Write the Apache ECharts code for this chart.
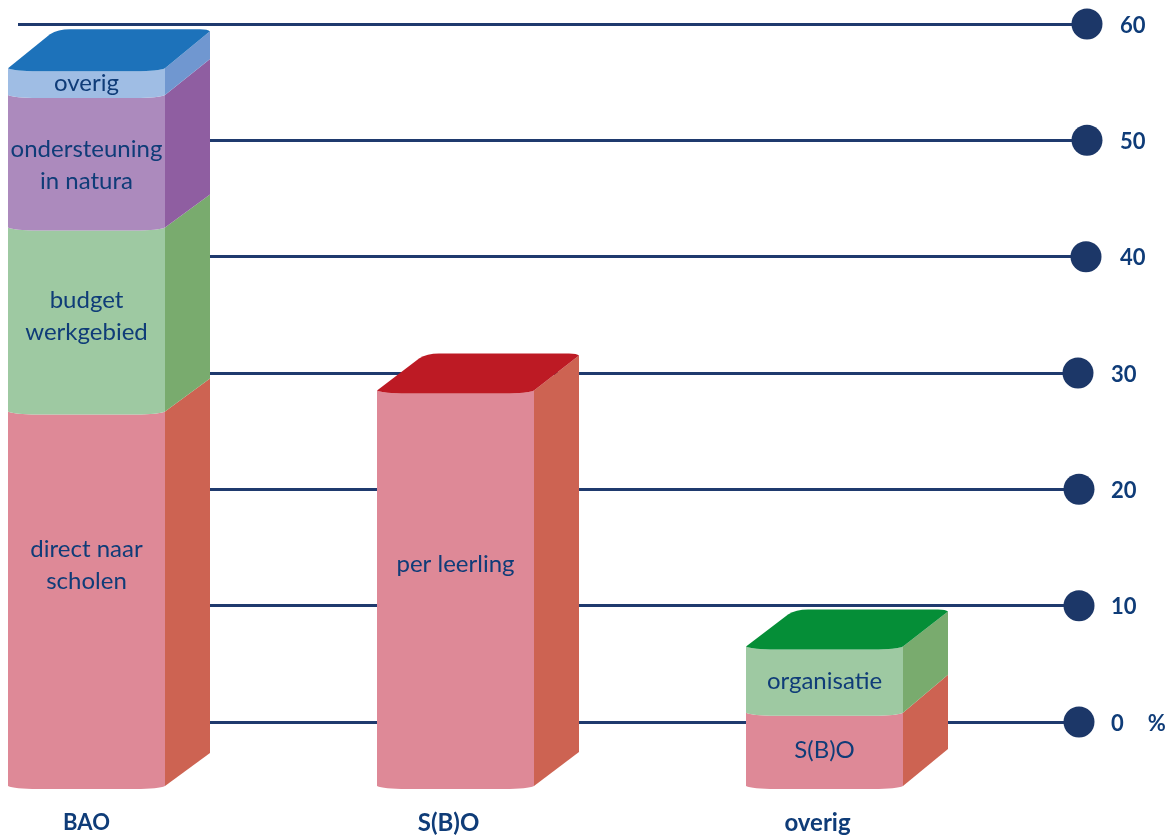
<!DOCTYPE html>
<html>
<head>
<meta charset="utf-8">
<title>Chart</title>
<style>
  html, body { margin: 0; padding: 0; background: #fff; }
  #chart { width: 1170px; height: 839px; }
</style>
<script src="https://cdn.jsdelivr.net/npm/echarts@6/dist/echarts.min.js"></script>
</head>
<body>
<div id="chart"></div>
<script>
// data
var categories = ['BAO', 'S(B)O', 'overig'];
var tickValues = [0, 10, 20, 30, 40, 50, 60];

var segmentBar = [0, 0, 0, 0, 1, 2, 2];
var segmentNames = ['direct naar\nscholen', 'budget\nwerkgebied', 'ondersteuning\nin natura', 'overig', 'per leerling', 'S(B)O', 'organisatie'];
var segmentValues = [32.2, 15.8, 11.4, 2.3, 34.0, 6.3, 5.7];

// colours
var frontColors = ['#de8997', '#9ec9a2', '#ac8abd', '#9fbde4', '#de8997', '#de8997', '#9ec9a2'];
var sideColors = ['#cd6352', '#79ab6e', '#8f5ea1', '#7097d0', '#cd6352', '#cd6352', '#79ab6e'];
var topColors = ['#1d72ba', '#bd1a24', '#058e37'];
var lineColor = '#1f3a6e';
var textColor = '#0f3c78';

// drawing layout, px
var barWidth = 157;
var depthX = 45;
var frontDrop = 67; // the front of a bar stands below the zero line
var cornerRise = 3;
var baseRise = [33, 34, 37];
var sideRise = [33, 33, 36, 37, 35, 38, 35];
var labelShift = [-36, -6, 1, -1.5, -27, -2, -1];
var dotShift = [-8, -8, -8, -9, -1, 0, 0];

var rows = [];
var totals = [0, 0, 0];
segmentValues.forEach(function (v, i) {
  var bar = segmentBar[i];
  rows.push([bar, totals[bar], totals[bar] + v, i]);
  totals[bar] += v;
});

function renderSegment(params, api) {
  var bar = api.value(0);
  var idx = api.value(3);
  var cx = api.coord([bar, 0])[0];
  var x0 = cx - barWidth / 2;
  var x1 = cx + barWidth / 2;
  var y0 = api.coord([bar, api.value(1)])[1] + frontDrop;
  var y1 = api.coord([bar, api.value(2)])[1] + frontDrop;
  var r0 = idx > 0 && segmentBar[idx - 1] === bar ? sideRise[idx - 1] : baseRise[bar];
  var r1 = sideRise[idx];
  var c = cornerRise;

  var front = 'M' + x0 + ' ' + (y1 - c) +
    'Q' + (x0 + 6) + ' ' + y1 + ' ' + (x0 + 30) + ' ' + y1 +
    'L' + (x1 - 30) + ' ' + y1 +
    'Q' + (x1 - 6) + ' ' + y1 + ' ' + x1 + ' ' + (y1 - c) +
    'L' + x1 + ' ' + (y0 - c) +
    'Q' + (x1 - 6) + ' ' + y0 + ' ' + (x1 - 30) + ' ' + y0 +
    'L' + (x0 + 30) + ' ' + y0 +
    'Q' + (x0 + 6) + ' ' + y0 + ' ' + x0 + ' ' + (y0 - c) + 'Z';

  var side = 'M' + x1 + ' ' + (y0 - c) +
    'L' + (x1 + depthX) + ' ' + (y0 - c - r0) +
    'L' + (x1 + depthX) + ' ' + (y1 - c - r1) +
    'L' + x1 + ' ' + (y1 - c) + 'Z';

  var children = [
    { type: 'path', shape: { pathData: side }, style: { fill: sideColors[idx] } },
    { type: 'path', shape: { pathData: front }, style: { fill: frontColors[idx] } }
  ];

  var isTop = idx === segmentBar.length - 1 || segmentBar[idx + 1] !== bar;
  if (isTop) {
    var back = y1 - c - r1 - 2;
    var topFace = 'M' + x0 + ' ' + (y1 - c) +
      'Q' + (x0 + 6) + ' ' + y1 + ' ' + (x0 + 30) + ' ' + y1 +
      'L' + (x1 - 30) + ' ' + y1 +
      'Q' + (x1 - 6) + ' ' + y1 + ' ' + x1 + ' ' + (y1 - c) +
      'L' + (x1 + depthX) + ' ' + (y1 - c - r1) +
      'Q' + (x1 + depthX - 2) + ' ' + back + ' ' + (x1 + depthX - 10) + ' ' + back +
      'L' + (x0 + 62) + ' ' + back +
      'Q' + (x0 + 50) + ' ' + back + ' ' + (x0 + 42) + ' ' + (back + 5) + 'Z';
    children.push({ type: 'path', shape: { pathData: topFace }, style: { fill: topColors[bar] } });
  }

  children.push({
    type: 'text',
    style: {
      text: segmentNames[idx],
      x: cx,
      y: (y0 + y1) / 2 + labelShift[idx],
      align: 'center',
      verticalAlign: 'middle',
      fontFamily: 'Lato',
      fontSize: 24,
      lineHeight: 32,
      fill: textColor
    }
  });
  return { type: 'group', children: children };
}

var chart = echarts.init(document.getElementById('chart'));
chart.setOption({
  animation: false,
  grid: [
    { left: 18, right: 83, top: 24, bottom: 117 },
    // first and last category sit on the grid edges
    { left: 86.5, width: 738, top: 24, bottom: 117 }
  ],
  xAxis: [
    { gridIndex: 0, type: 'value', min: 0, max: 1, show: false },
    {
      gridIndex: 1,
      type: 'category',
      data: categories,
      boundaryGap: false,
      axisLine: { show: false },
      axisTick: { show: false },
      axisLabel: {
        margin: 101,
        verticalAlign: 'middle',
        formatter: function (v, i) { return i ? '{shift|' + v + '}' : '{plain|' + v + '}'; },
        rich: {
          plain: { fontFamily: 'Lato', fontSize: 22, fontWeight: 'bold', color: textColor },
          shift: { fontFamily: 'Lato', fontSize: 24, fontWeight: 'bold', color: textColor, padding: [0, 14, 0, 0] }
        }
      }
    }
  ],
  yAxis: [
    {
      gridIndex: 0,
      type: 'value',
      position: 'right',
      min: 0,
      max: 60,
      interval: 10,
      axisLine: { show: false },
      axisTick: { show: false },
      splitLine: { show: true, lineStyle: { color: lineColor, width: 3 } },
      axisLabel: {
        margin: 24,
        padding: [3, 0, 0, 0],
        formatter: function (v) {
          if (v === 0) return '{b|0}{pct|%}';
          return v >= 40 ? '{hi|' + v + '}' : '{b|' + v + '}';
        },
        rich: {
          b: { fontFamily: 'Lato', fontSize: 22, fontWeight: 'bold', color: textColor },
          hi: { fontFamily: 'Lato', fontSize: 22, fontWeight: 'bold', color: textColor, padding: [0, 0, 0, 9] },
          pct: { fontFamily: 'Lato', fontSize: 22, fontWeight: 'bold', color: textColor, padding: [0, 0, 0, 24] }
        }
      }
    },
    { gridIndex: 1, type: 'value', min: 0, max: 60, interval: 10, show: false }
  ],
  series: [
    {
      type: 'scatter',
      xAxisIndex: 0,
      yAxisIndex: 0,
      symbolSize: 31,
      clip: false,
      silent: true,
      itemStyle: { color: '#1c3768', opacity: 1 },
      data: tickValues.map(function (t, i) {
        return { value: [1, t], symbolOffset: [dotShift[i], 0] };
      })
    },
    {
      type: 'custom',
      xAxisIndex: 1,
      yAxisIndex: 1,
      clip: false,
      silent: true,
      encode: { x: 0, y: [1, 2] },
      renderItem: renderSegment,
      data: rows
    }
  ]
});
</script>
</body>
</html>
